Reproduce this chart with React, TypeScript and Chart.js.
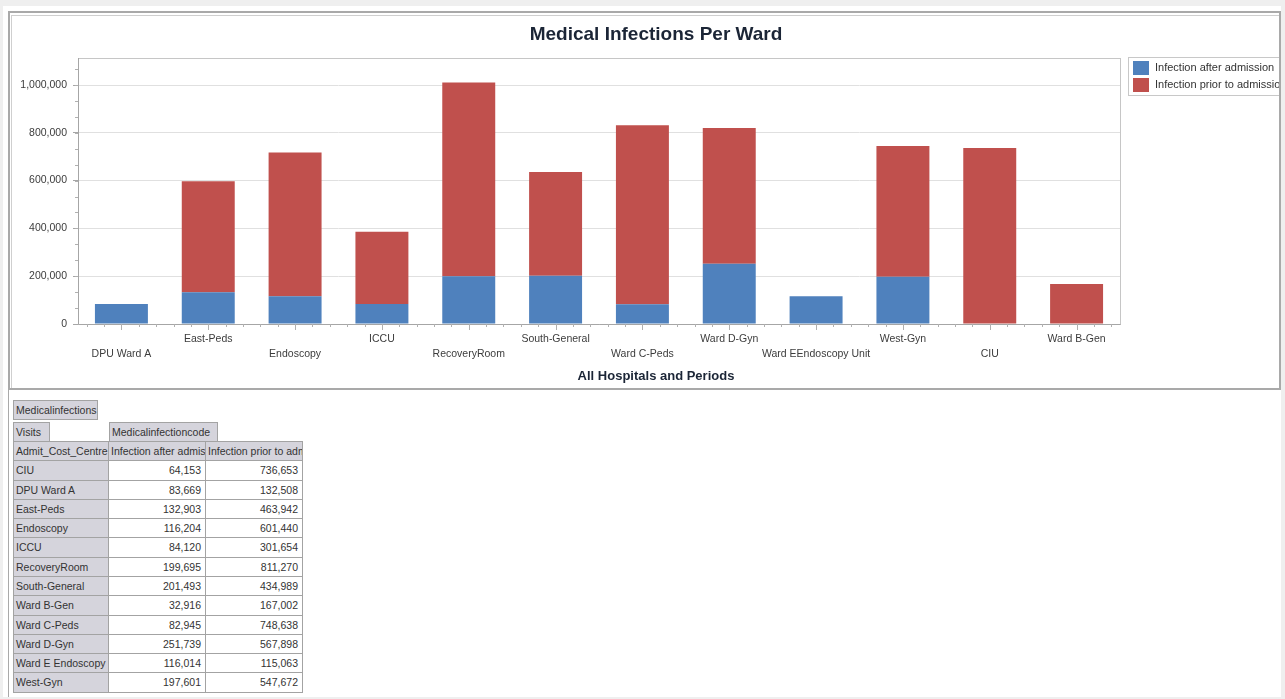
import React, { useEffect, useRef } from 'react';
import { Chart, registerables } from 'chart.js';
Chart.register(...registerables);

const chartTitle = 'Medical Infections Per Ward';
const xAxisTitle = 'All Hospitals and Periods';
const wards = ['DPU Ward A', 'East-Peds', 'Endoscopy', 'ICCU', 'RecoveryRoom', 'South-General', 'Ward C-Peds', 'Ward D-Gyn', 'Ward EEndoscopy Unit', 'West-Gyn', 'CIU', 'Ward B-Gen'];
const seriesNames = ['Infection after admission', 'Infection prior to admission'];
const seriesColors = ['#4f81bd', '#c0504d'];
const afterAdmission = [83669, 132903, 116204, 84120, 199695, 201493, 82945, 251739, 116014, 197601, null, null];
const priorToAdmission = [null, 463942, 601440, 301654, 811270, 434989, 748638, 567898, null, 547672, 736653, 167002];
const yTicks = [0, 200000, 400000, 600000, 800000, 1000000];
const yMax = 1113000;

const tableTitle = 'Medicalinfections';
const tableMeasure = 'Visits';
const tableColumnField = 'Medicalinfectioncode';
const tableRowField = 'Admit_Cost_Centre';
const tableRows = ['CIU', 'DPU Ward A', 'East-Peds', 'Endoscopy', 'ICCU', 'RecoveryRoom', 'South-General', 'Ward B-Gen', 'Ward C-Peds', 'Ward D-Gyn', 'Ward E Endoscopy', 'West-Gyn'];
const tableAfter = [64153, 83669, 132903, 116204, 84120, 199695, 201493, 32916, 82945, 251739, 116014, 197601];
const tablePrior = [736653, 132508, 463942, 601440, 301654, 811270, 434989, 167002, 748638, 567898, 115063, 547672];

const FONT = '"Liberation Sans", Arial, sans-serif';
const fmt = (v: number) => v.toLocaleString('en-US');

const decor = {
  id: 'decor',
  afterDatasetsDraw(chart: any) {
    const { ctx, chartArea: a, scales } = chart;
    const x = scales.x;
    const y = scales.y;
    const step = yTicks[1] - yTicks[0];
    ctx.save();
    ctx.lineWidth = 1;
    ctx.strokeStyle = '#c6c6c6';
    ctx.strokeRect(a.left + 0.5, a.top + 0.5, a.right - a.left, a.bottom - a.top);
    ctx.strokeStyle = '#a6a6a6';
    ctx.beginPath();
    ctx.moveTo(a.left + 0.5, a.top);
    ctx.lineTo(a.left + 0.5, a.bottom + 0.5);
    ctx.lineTo(a.right + 0.5, a.bottom + 0.5);
    ctx.stroke();
    // minor ticks on y
    ctx.strokeStyle = '#b0b0b0';
    ctx.beginPath();
    for (let v = step / 3; v < y.max; v += step / 3) {
      const p = Math.round(y.getPixelForValue(v)) + 0.5;
      ctx.moveTo(a.left - 3, p);
      ctx.lineTo(a.left, p);
    }
    // ticks on x
    const n = wards.length;
    for (let i = 0; i < n; i++) {
      for (let k = -2; k <= 2; k++) {
        const p = Math.round(x.getPixelForDecimal((i + 0.5 + k * 0.2) / n)) + 0.5;
        ctx.moveTo(p, a.bottom);
        ctx.lineTo(p, a.bottom + (k === 0 ? 6 : 3));
      }
    }
    ctx.stroke();
    ctx.restore();
  },
  afterDraw(chart: any) {
    const { ctx, chartArea: a } = chart;
    const bx = a.right + 8;
    const by = a.top - 1;
    ctx.save();
    ctx.fillStyle = '#fff';
    ctx.fillRect(bx, by, 400, 38);
    ctx.strokeStyle = '#c8c8c8';
    ctx.strokeRect(bx + 0.5, by + 0.5, 400, 38);
    ctx.font = '11px ' + FONT;
    ctx.textBaseline = 'middle';
    chart.data.datasets.forEach((ds: any, i: number) => {
      const top = by + 4 + i * 17;
      ctx.fillStyle = ds.backgroundColor;
      ctx.fillRect(bx + 5, top, 16, 14);
      ctx.fillStyle = '#333';
      ctx.fillText(ds.label, bx + 27, top + 7);
    });
    ctx.restore();
  },
};

function ChartPanel() {
  const ref = useRef<HTMLCanvasElement>(null);
  useEffect(() => {
    const chart = new Chart(ref.current!, {
      type: 'bar',
      data: {
        labels: wards,
        datasets: [
          { label: seriesNames[0], data: afterAdmission as any, backgroundColor: seriesColors[0], stack: 's' },
          { label: seriesNames[1], data: priorToAdmission as any, backgroundColor: seriesColors[1], stack: 's' },
        ],
      },
      options: {
        responsive: false,
        animation: false,
        layout: { padding: 0 },
        datasets: { bar: { categoryPercentage: 1, barPercentage: 0.61, borderWidth: 0 } } as any,
        plugins: {
          legend: { display: false },
          tooltip: { enabled: false },
          title: {
            display: true,
            text: chartTitle,
            color: '#1b2536',
            font: { family: FONT, size: 19, weight: 'bold', lineHeight: 1.2 },
            padding: { top: 11.6, bottom: 11.6 },
          },
          subtitle: {
            display: true,
            position: 'bottom',
            text: xAxisTitle,
            color: '#1b2536',
            font: { family: FONT, size: 13, weight: 'bold', lineHeight: 1.2 },
            padding: { top: 0, bottom: 5.2 },
          },
        },
        scales: {
          x: {
            stacked: true,
            grid: { display: false, drawTicks: false },
            border: { display: false },
            ticks: {
              autoSkip: false,
              maxRotation: 0,
              minRotation: 0,
              padding: 7.5,
              color: '#3c3c3c',
              font: { family: FONT, size: 10.5, lineHeight: '15px' } as any,
              callback: (_v: any, i: number) => (i % 2 === 0 ? ['', wards[i]] : [wards[i]]),
            },
            afterFit: (s: any) => { s.height = 44.2; },
          },
          y: {
            stacked: true,
            min: 0,
            max: yMax,
            afterBuildTicks: (s: any) => { s.ticks = yTicks.map((v) => ({ value: v })); },
            grid: { color: '#e0e0e0', tickColor: '#a6a6a6', tickLength: 5 },
            border: { display: false },
            ticks: {
              autoSkip: false,
              padding: 6,
              color: '#3c3c3c',
              font: { family: FONT, size: 10.5 },
              callback: (v: any) => fmt(Number(v)),
            },
            afterFit: (s: any) => { s.width = 66; },
          },
          yRight: {
            position: 'right',
            display: true,
            grid: { display: false, drawTicks: false },
            border: { display: false },
            ticks: { display: false },
            afterFit: (s: any) => { s.width = 180; },
          },
        },
      },
      plugins: [decor],
    });
    return () => chart.destroy();
  }, []);
  return <canvas ref={ref} width={1288} height={377} style={{ position: 'absolute', left: 2, top: -1, width: 1288, height: 377 }} />;
}

const GRAY = '#d5d4dc';
const LINE = '#a3a3a3';

function Cell(props: { x: number; y: number; w: number; h: number; bg: string; align?: 'left' | 'right'; children: React.ReactNode }) {
  const { x, y, w, h, bg, align = 'left', children } = props;
  return (
    <div
      style={{
        position: 'absolute', left: x, top: y, width: w + 1, height: h + 1, boxSizing: 'border-box',
        border: `1px solid ${LINE}`, background: bg, overflow: 'hidden', whiteSpace: 'nowrap',
        fontSize: 10.5, lineHeight: `${h - 1}px`, color: '#333', textAlign: align,
        paddingLeft: align === 'left' ? 2 : 0, paddingRight: align === 'right' ? 4 : 0,
      }}
    >
      {children}
    </div>
  );
}

function PivotTable() {
  const colX = [13, 108, 205, 302];
  const rowH = 19.28;
  const top0 = 441;
  const cells: React.ReactNode[] = [];
  cells.push(<Cell key="t" x={13} y={400} w={84} h={19} bg={GRAY}>{tableTitle}</Cell>);
  cells.push(<Cell key="m" x={13} y={422} w={36} h={19} bg={GRAY}>{tableMeasure}</Cell>);
  cells.push(<Cell key="c" x={109} y={422} w={108} h={19} bg={GRAY}>{tableColumnField}</Cell>);
  cells.push(<Cell key="h0" x={colX[0]} y={top0} w={colX[1] - colX[0]} h={rowH} bg={GRAY}>{tableRowField}</Cell>);
  cells.push(<Cell key="h1" x={colX[1]} y={top0} w={colX[2] - colX[1]} h={rowH} bg={GRAY}>{seriesNames[0]}</Cell>);
  cells.push(<Cell key="h2" x={colX[2]} y={top0} w={colX[3] - colX[2]} h={rowH} bg={GRAY}>{seriesNames[1]}</Cell>);
  tableRows.forEach((r, i) => {
    const y = top0 + (i + 1) * rowH;
    cells.push(<Cell key={'r' + i} x={colX[0]} y={y} w={colX[1] - colX[0]} h={rowH} bg={GRAY}>{r}</Cell>);
    cells.push(<Cell key={'a' + i} x={colX[1]} y={y} w={colX[2] - colX[1]} h={rowH} bg="#fff" align="right">{fmt(tableAfter[i])}</Cell>);
    cells.push(<Cell key={'p' + i} x={colX[2]} y={y} w={colX[3] - colX[2]} h={rowH} bg="#fff" align="right">{fmt(tablePrior[i])}</Cell>);
  });
  return <>{cells}</>;
}

export default function App() {
  return (
    <div style={{ position: 'fixed', left: 0, top: 0, width: 1285, height: 699, background: '#efefef', overflow: 'hidden', fontFamily: FONT }}>
      <div style={{ position: 'absolute', left: 3, top: 6, width: 1278, height: 691, background: '#fff' }} />
      <div style={{ position: 'absolute', left: 8, top: 11, width: 1, height: 686, background: '#a9a9a9' }} />
      <div style={{ position: 'absolute', left: 8, top: 11, width: 1273, height: 379, border: '2px solid #a9a9a9', boxSizing: 'border-box', overflow: 'hidden', background: '#fff' }}>
        <ChartPanel />
        <div style={{ position: 'absolute', left: 1, top: 2, right: 0, bottom: 0, borderLeft: '1px solid #cfcfcf', borderTop: '1px solid #cfcfcf', pointerEvents: 'none' }} />
      </div>
      <PivotTable />
    </div>
  );
}
